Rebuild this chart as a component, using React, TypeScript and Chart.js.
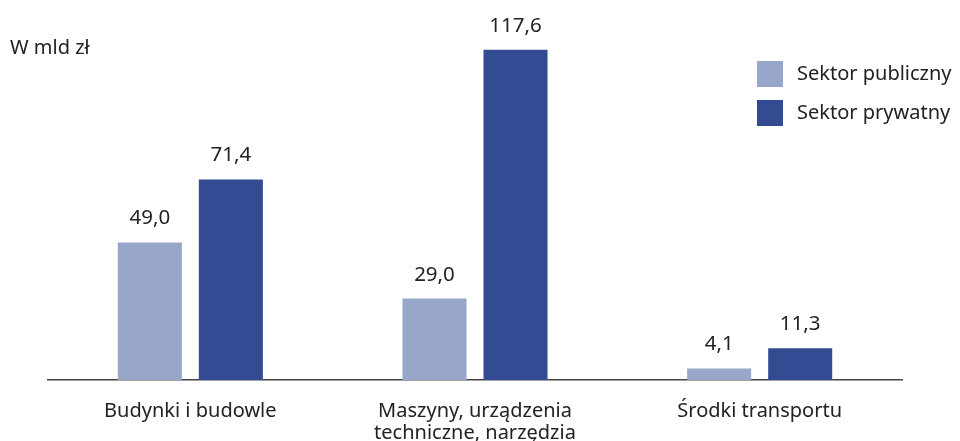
import React, { useEffect, useRef } from "react";
import { Chart, registerables } from "chart.js";

Chart.register(...registerables);

const categories: (string | string[])[] = [
  "Budynki i budowle",
  ["Maszyny, urządzenia", "techniczne, narzędzia"],
  "Środki transportu",
];
const publicValues = [49.0, 29.0, 4.1];
const privateValues = [71.4, 117.6, 11.3];
const seriesNames = ["Sektor publiczny", "Sektor prywatny"];
const unitLabel = "W mld zł";

const FONT = "'Noto Sans', 'Open Sans', sans-serif";
const TEXT = "#222222";
const LIGHT = "#97a6c9";
const DARK = "#324b93";

const fmt = (v: number) => v.toFixed(1).replace(".", ",");

const overlayPlugin = {
  id: "overlay",
  afterDatasetsDraw(chart: any) {
    const ctx = chart.ctx;
    ctx.save();
    ctx.font = `20.5px ${FONT}`;
    ctx.fillStyle = TEXT;
    ctx.textAlign = "center";
    ctx.textBaseline = "alphabetic";
    chart.data.datasets.forEach((ds: any, i: number) => {
      const meta = chart.getDatasetMeta(i);
      meta.data.forEach((bar: any, j: number) => {
        ctx.fillText(fmt(ds.data[j]), bar.x, bar.y - 18);
      });
    });
    // unit label
    ctx.textAlign = "left";
    ctx.textBaseline = "middle";
    ctx.font = `20px ${FONT}`;
    ctx.fillText(unitLabel, 10, 48);
    // legend
    chart.data.datasets.forEach((ds: any, i: number) => {
      const y = 61 + i * 39;
      ctx.fillStyle = ds.backgroundColor;
      ctx.fillRect(757, y, 26, 26);
      ctx.fillStyle = TEXT;
      ctx.fillText(ds.label, 797, y + 13);
    });
    ctx.restore();
  },
};

export default function App() {
  const ref = useRef<HTMLCanvasElement | null>(null);
  useEffect(() => {
    if (!ref.current) return;
    const chart = new Chart(ref.current, {
      type: "bar",
      data: {
        labels: categories as any,
        datasets: [
          { label: seriesNames[0], data: publicValues, backgroundColor: LIGHT },
          { label: seriesNames[1], data: privateValues, backgroundColor: DARK },
        ],
      },
      options: {
        animation: false,
        responsive: false,
        layout: { padding: { left: 48, right: 58, top: 43, bottom: 0 } },
        plugins: { legend: { display: false }, tooltip: { enabled: false } },
        datasets: {
          bar: { categoryPercentage: 0.5694, barPercentage: 0.79 },
        },
        scales: {
          x: {
            grid: { display: false, drawTicks: false },
            border: { display: true, color: "#444444", width: 1.5 },
            ticks: {
              color: TEXT,
              font: { family: FONT, size: 20, lineHeight: 1.1 },
              padding: 20,
              maxRotation: 0,
              autoSkip: false,
            },
            afterFit: (scale: any) => {
              scale.height = 61;
            },
          },
          y: {
            display: false,
            min: 0,
            max: 120,
          },
        },
      },
      plugins: [overlayPlugin],
    });
    return () => chart.destroy();
  }, []);
  return (
    <div style={{ position: "fixed", left: 0, top: 0, width: 960, height: 441, background: "#fff" }}>
      <canvas ref={ref} width={960} height={441} style={{ display: "block" }} />
    </div>
  );
}
